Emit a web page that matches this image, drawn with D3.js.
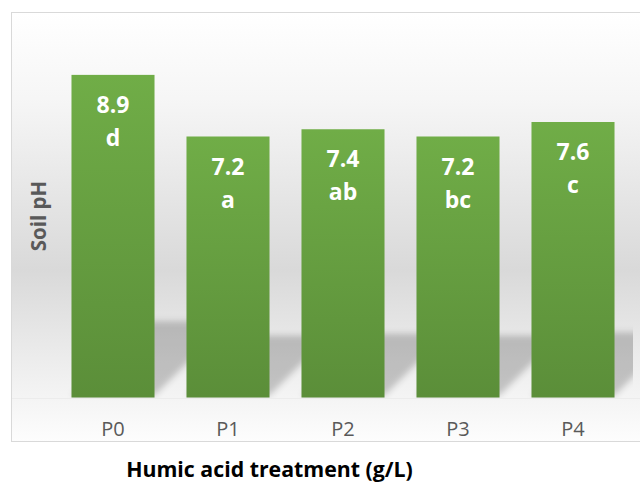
<!DOCTYPE html>
<html>
<head>
<meta charset="utf-8">
<script src="https://cdn.jsdelivr.net/npm/d3@7"></script>
<style>
  html, body { margin: 0; padding: 0; background: #ffffff; }
  svg { display: block; }
  text { font-family: "Open Sans", "Noto Sans", sans-serif; }
</style>
</head>
<body>
<svg id="chart" width="640" height="484"></svg>
<script>
// Soil pH by humic acid treatment
const treatments = ["P0", "P1", "P2", "P3", "P4"];
const phValues = [8.9, 7.2, 7.4, 7.2, 7.6];
const groupLetters = ["d", "a", "ab", "bc", "c"];
const xTitle = "Humic acid treatment (g/L)";
const yTitle = "Soil pH";

const svg = d3.select("#chart");
const defs = svg.append("defs");

// chart area background gradient
const bg = defs.append("linearGradient").attr("id", "bgGrad")
  .attr("x1", 0).attr("y1", 0).attr("x2", 0).attr("y2", 1);
bg.append("stop").attr("offset", "0").attr("stop-color", "#ffffff");
bg.append("stop").attr("offset", "0.2").attr("stop-color", "#f6f6f6");
bg.append("stop").attr("offset", "0.6").attr("stop-color", "#d9d9d9");
bg.append("stop").attr("offset", "0.85").attr("stop-color", "#f0f0f0");
bg.append("stop").attr("offset", "1").attr("stop-color", "#fdfdfd");

// bar fill gradient
const barGrad = defs.append("linearGradient").attr("id", "barGrad")
  .attr("x1", 0).attr("y1", 0).attr("x2", 0).attr("y2", 1);
barGrad.append("stop").attr("offset", "0").attr("stop-color", "#70ad47");
barGrad.append("stop").attr("offset", "1").attr("stop-color", "#5b8e39");

const blur = defs.append("filter").attr("id", "shadowBlur")
  .attr("x", "-50%").attr("y", "-50%").attr("width", "200%").attr("height", "200%");
blur.append("feGaussianBlur").attr("stdDeviation", 3);

defs.append("clipPath").attr("id", "plotClip")
  .append("rect").attr("x", 12).attr("y", 13).attr("width", 621).attr("height", 385);

// chart area
svg.append("rect")
  .attr("x", 11.5).attr("y", 12.5).attr("width", 640).attr("height", 429)
  .attr("fill", "url(#bgGrad)")
  .attr("stroke", "#d9d9d9").attr("stroke-width", 1);

const x = d3.scaleBand()
  .domain(treatments)
  .range([55.5, 630.5])
  .paddingInner(0.278)
  .paddingOuter(0.139);

const y = d3.scaleLinear()
  .domain([0, 10])
  .range([397.5, 35]);

const data = treatments.map((t, i) => ({ t, v: phValues[i], g: groupLetters[i] }));

// perspective shadows cast behind each bar
svg.append("g").attr("clip-path", "url(#plotClip)")
  .selectAll("path").data(data).join("path")
  .attr("d", d => {
    const x0 = x(d.t), x1 = x0 + x.bandwidth();
    const base = y(0) - 2;
    const hs = (y(0) - y(d.v)) * 0.23;
    const dx = hs;
    return `M${x0},${base}L${x1},${base}L${x1 + dx},${base - hs}L${x0 + dx},${base - hs}Z`;
  })
  .attr("fill", "#000")
  .attr("fill-opacity", 0.2)
  .attr("filter", "url(#shadowBlur)");

// floor line
svg.append("line")
  .attr("x1", 12).attr("x2", 640)
  .attr("y1", y(0) + 1).attr("y2", y(0) + 1)
  .attr("stroke", "#ececec").attr("stroke-width", 1);

// bars
svg.append("g").selectAll("rect").data(data).join("rect")
  .attr("x", d => x(d.t))
  .attr("y", d => y(d.v))
  .attr("width", x.bandwidth())
  .attr("height", d => y(0) - y(d.v))
  .attr("fill", "url(#barGrad)");

// value and significance labels
const labels = svg.append("g").selectAll("text").data(data).join("text")
  .attr("x", d => x(d.t) + x.bandwidth() / 2)
  .attr("y", d => y(d.v) + 38)
  .attr("text-anchor", "middle")
  .attr("fill", "#ffffff")
  .attr("font-size", 23)
  .attr("font-weight", "bold");
labels.append("tspan")
  .attr("x", d => x(d.t) + x.bandwidth() / 2)
  .text(d => d.v.toFixed(1));
labels.append("tspan")
  .attr("x", d => x(d.t) + x.bandwidth() / 2)
  .attr("dy", 33)
  .text(d => d.g);

// category axis
const xAxis = svg.append("g")
  .attr("transform", `translate(0,${y(0)})`)
  .call(d3.axisBottom(x).tickSize(0).tickPadding(0));
xAxis.select(".domain").remove();
xAxis.selectAll("text")
  .attr("dy", null)
  .attr("y", 38.5)
  .attr("fill", "#595959")
  .attr("font-size", 20)
  .attr("font-family", "'Open Sans', 'Noto Sans', sans-serif");

// axis titles
svg.append("text")
  .attr("x", 269.5).attr("y", 477)
  .attr("text-anchor", "middle")
  .attr("font-size", 21.3).attr("font-weight", "bold")
  .attr("fill", "#000000")
  .text(xTitle);

svg.append("text")
  .attr("transform", "translate(46,216) rotate(-90)")
  .attr("text-anchor", "middle")
  .attr("font-size", 20.5).attr("font-weight", "bold")
  .attr("fill", "#595959")
  .text(yTitle);
</script>
</body>
</html>
